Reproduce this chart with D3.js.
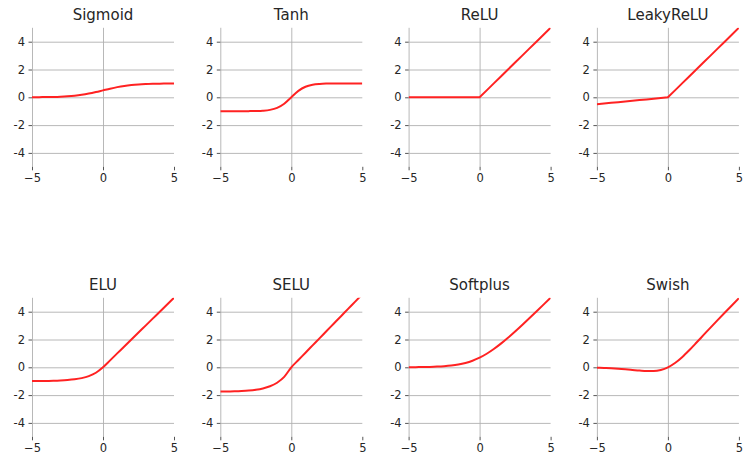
<!DOCTYPE html>
<html>
<head>
<meta charset="utf-8">
<script src="https://cdn.jsdelivr.net/npm/d3@7"></script>
<style>
  body { margin:0; background:#fff; }
  .title { font-family:"DejaVu Sans",sans-serif; font-size:15px; fill:#262626; }
  .tick text { font-family:"DejaVu Sans",sans-serif; font-size:11.5px; fill:#262626; }
  .tick line { stroke:#555; }
  .grid line { stroke:#b0b0b0; stroke-width:0.9; }
</style>
</head>
<body>
<svg id="chart" width="745" height="455"></svg>
<script>
const xs = [-5,-4.5,-4,-3.5,-3,-2.5,-2,-1.5,-1,-0.5,0,0.5,1,1.5,2,2.5,3,3.5,4,4.5,5];

const titles = ['Sigmoid','Tanh','ReLU','LeakyReLU','ELU','SELU','Softplus','Swish'];

const sigmoid   = [0.007,0.011,0.018,0.029,0.047,0.076,0.119,0.182,0.269,0.378,0.5,0.622,0.731,0.818,0.881,0.924,0.953,0.971,0.982,0.989,0.993];
const tanh      = [-1,-1,-0.999,-0.998,-0.995,-0.987,-0.964,-0.905,-0.762,-0.462,0,0.462,0.762,0.905,0.964,0.987,0.995,0.998,0.999,1,1];
const relu      = [0,0,0,0,0,0,0,0,0,0,0,0.5,1,1.5,2,2.5,3,3.5,4,4.5,5];
const leaky     = [-0.5,-0.45,-0.4,-0.35,-0.3,-0.25,-0.2,-0.15,-0.1,-0.05,0,0.5,1,1.5,2,2.5,3,3.5,4,4.5,5];
const elu       = [-0.993,-0.989,-0.982,-0.970,-0.950,-0.918,-0.865,-0.777,-0.632,-0.393,0,0.5,1,1.5,2,2.5,3,3.5,4,4.5,5];
const selu      = [-1.746,-1.738,-1.726,-1.705,-1.671,-1.614,-1.520,-1.366,-1.111,-0.692,0,0.525,1.051,1.576,2.101,2.627,3.152,3.677,4.203,4.728,5.254];
const softplus  = [0.007,0.011,0.018,0.030,0.049,0.079,0.127,0.201,0.313,0.474,0.693,0.974,1.313,1.701,2.127,2.579,3.049,3.530,4.018,4.511,5.007];
const swish     = [-0.033,-0.050,-0.072,-0.102,-0.142,-0.190,-0.238,-0.273,-0.269,-0.189,0,0.311,0.731,1.227,1.762,2.310,2.858,3.398,3.928,4.451,4.967];

const series = [sigmoid, tanh, relu, leaky, elu, selu, softplus, swish];
// piecewise-linear ones keep their sharp corner
const sharp = [false, false, true, true, false, false, false, false];

const xTicks = [-5, 0, 5];
const yTicks = [-4, -2, 0, 2, 4];

const svg = d3.select('#chart');

const panelW = 142, panelH = 139;
const left0 = 32, top0 = 27.8;
const colStep = 188.3, rowStep = 270;

const xscale = d3.scaleLinear().domain([-5, 5]).range([0, panelW]);
const yscale = d3.scaleLinear().domain([-5, 5]).range([panelH, 0]);

const makeLine = curve => d3.line()
    .x((d, i) => xscale(xs[i]))
    .y(d => yscale(d))
    .curve(curve);

svg.append('defs').append('clipPath').attr('id', 'clip')
    .append('rect').attr('width', panelW).attr('height', panelH);

series.forEach((ys, k) => {
    const col = k % 4, row = Math.floor(k / 4);
    const g = svg.append('g')
        .attr('transform', `translate(${left0 + col * colStep},${top0 + row * rowStep})`);

    // grid
    g.append('g').attr('class', 'grid')
        .call(d3.axisLeft(yscale).tickValues(yTicks).tickSize(-panelW).tickFormat(''))
        .call(s => s.select('.domain').remove());
    g.append('g').attr('class', 'grid')
        .attr('transform', `translate(0,${panelH})`)
        .call(d3.axisBottom(xscale).tickValues([-5, 0]).tickSize(panelH).tickFormat(''))
        .call(s => s.selectAll('line').attr('y2', -panelH))
        .call(s => s.select('.domain').remove());

    // axes
    g.append('g')
        .call(d3.axisLeft(yscale).tickValues(yTicks).tickSize(3.5).tickPadding(3.5)
            .tickFormat(d => String(d)))
        .call(s => s.select('.domain').remove());
    g.append('g')
        .attr('transform', `translate(0,${panelH})`)
        .call(d3.axisBottom(xscale).tickValues(xTicks).tickSize(3.5).tickPadding(3.5)
            .tickFormat(d => d < 0 ? '\u2212' + Math.abs(d) : String(d)))
        .call(s => s.select('.domain').remove());

    g.append('path')
        .datum(ys)
        .attr('clip-path', 'url(#clip)')
        .attr('fill', 'none')
        .attr('stroke', '#ff2222')
        .attr('stroke-width', 2)
        .attr('d', makeLine(sharp[k] ? d3.curveLinear : d3.curveMonotoneX));

    g.append('text')
        .attr('class', 'title')
        .attr('x', panelW / 2)
        .attr('y', -8.3)
        .attr('text-anchor', 'middle')
        .text(titles[k]);
});
</script>
</body>
</html>
